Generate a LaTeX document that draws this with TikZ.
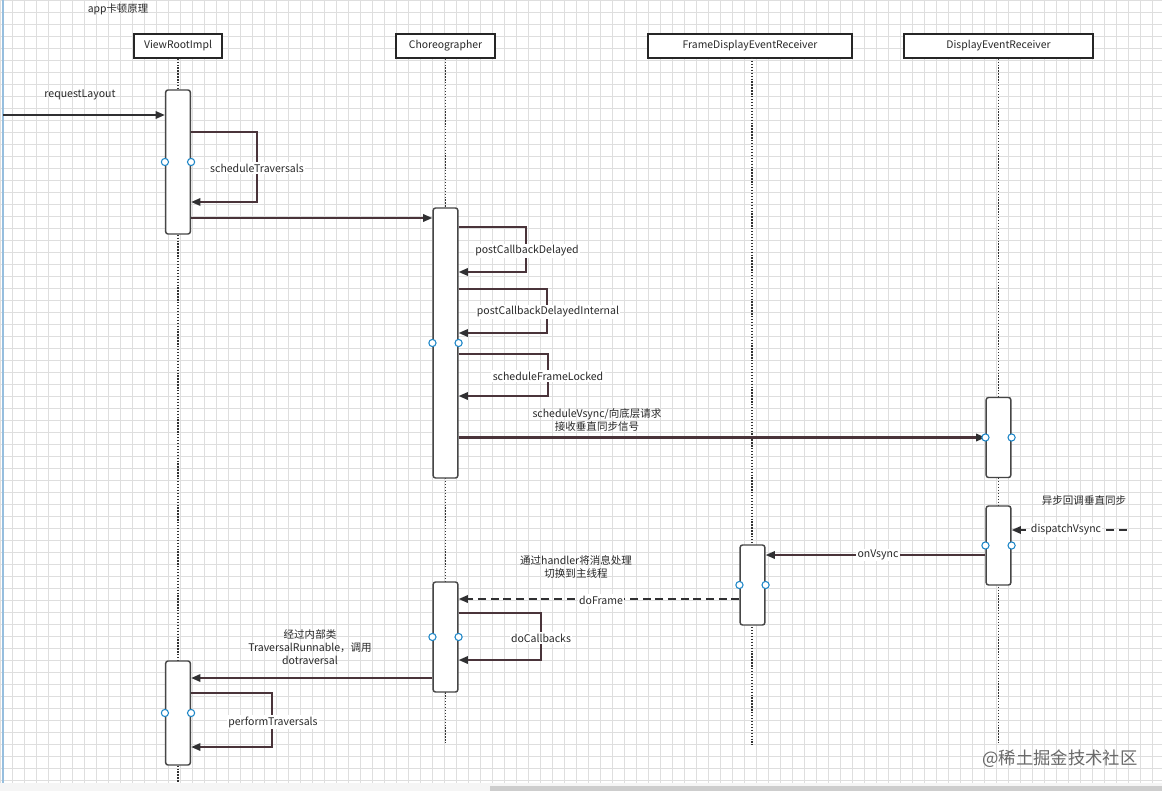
\documentclass[tikz,border=0pt]{standalone}
\usepackage{fontspec}
\setmainfont{Noto Sans CJK SC}
\usetikzlibrary{arrows.meta}
\definecolor{gridc}{RGB}{222,222,222}
\definecolor{msgc}{RGB}{74,52,58}
\definecolor{tipc}{RGB}{48,48,50}
\definecolor{boxc}{RGB}{70,70,70}
\definecolor{txtc}{RGB}{40,40,40}
\definecolor{portc}{RGB}{30,135,200}
\definecolor{leftc}{RGB}{150,190,222}
\definecolor{scrollc}{RGB}{205,205,205}
\definecolor{wmc}{RGB}{105,105,105}
\begin{document}
\begin{tikzpicture}[x=0.75pt,y=-0.75pt,
  gridline/.style={draw=gridc,line width=0.5pt},
  head/.style={draw=black!85,line width=1pt,fill=white,minimum height=18pt,inner sep=0pt,font=\fontsize{7.8}{9}\selectfont,text=txtc},
  life/.style={draw=black!80,line width=1pt,dash pattern=on 1pt off 1.2pt},
  act/.style={draw=boxc,line width=1.1pt,fill=white,rounded corners=1.8pt,minimum width=18.5pt,minimum height=#1,inner sep=0pt},
  msg/.style={draw=msgc,line width=1.6pt,-{Triangle[length=7pt,width=5.5pt,color=tipc]}},
  dmsg/.style={draw=tipc,line width=1.6pt,dash pattern=on 6pt off 3.5pt,-{Triangle[length=7pt,width=5.5pt,color=tipc]}},
  lbl/.style={font=\fontsize{7.9}{9.75}\selectfont,text=txtc,fill=white,inner sep=1pt},
  note/.style={font=\fontsize{7.9}{9.75}\selectfont,text=txtc,align=center,inner sep=0pt},
  port/.style={draw=portc,line width=0.8pt,fill=white}]
\useasboundingbox (0,0) rectangle (1162,791);
\fill[white] (0,0) rectangle (1162,791);
% grid
\foreach \i in {0,12,...,1160} \draw[gridline] (\i,0) -- (\i,783);
\foreach \j in {0,12,...,780} \draw[gridline] (0,\j) -- (1162,\j);
\draw[leftc,line width=1pt] (3,0) -- (3,783);
\fill[black!4] (0,783) rectangle (1162,791);
\fill[scrollc] (490,786) rectangle (1162,791);
% title
\node[font=\fontsize{7.8}{9}\selectfont,text=txtc] (title) at (118,9) {app卡顿原理};
% headers
\node[head,minimum width=66pt] (vr) at (178,46) {ViewRootImpl};
\node[head,minimum width=74.25pt] (ch) at (445.5,46) {Choreographer};
\node[head,minimum width=153pt] (fd) at (750,46) {FrameDisplayEventReceiver};
\node[head,minimum width=141.75pt] (de) at (998.5,46) {DisplayEventReceiver};
% lifelines
\draw[life] (vr.south) -- (178,783);
\draw[life] (ch.south) -- (445.5,745);
\draw[life] (752,58) -- (752,745);
\draw[life] (de.south) -- (998.5,745);
% activations
\node[act=108pt] (v1) at (178,162) {};
\node[act=202.5pt] (c1) at (445.5,343) {};
\node[act=60pt] (d1) at (998.5,437.5) {};
\node[act=59.25pt] (d2) at (998.5,545.5) {};
\node[act=60pt] (f1) at (752.5,585) {};
\node[act=82.5pt] (c2) at (445.5,637) {};
\node[act=78pt] (v2) at (178,713) {};
% messages
\coordinate (start) at (3,115);
\draw[msg,draw=tipc] (start) -- (v1.west|-0,115);
\node[lbl,fill=none] (lreq) at (80,95) {requestLayout};
\draw[msg] (v1.east|-0,132) -- (257,132) -- (257,202) -- (v1.east|-0,202);
\node[lbl] (lst) at (257,168) {scheduleTraversals};
\draw[msg] (v1.east|-0,218) -- (c1.west|-0,218);
\draw[msg] (c1.east|-0,227) -- (526,227) -- (526,272) -- (c1.east|-0,272);
\node[lbl] (lpcd) at (527,251) {postCallbackDelayed};
\draw[msg] (c1.east|-0,289) -- (547,289) -- (547,333) -- (c1.east|-0,333);
\node[lbl] (lpcdi) at (548,312) {postCallbackDelayedInternal};
\draw[msg] (c1.east|-0,354) -- (548,354) -- (548,396) -- (c1.east|-0,396);
\node[lbl] (lsfl) at (548,376) {scheduleFrameLocked};
\draw[msg] (c1.east|-0,437.5) -- (d1.west);
\node[note] (lsv) at (597,420) {scheduleVsync/向底层请求\\接收垂直同步信号};
\node[note] (lasync) at (1084,501) {异步回调垂直同步};
\coordinate (vs) at (1127,530);
\draw[dmsg] (vs) -- (d2.east|-0,530);
\node[lbl] (ldv) at (1066,530) {dispatchVsync};
\draw[msg] (d2.west|-0,555) -- (f1.east|-0,555);
\node[lbl] (lov) at (878,555) {onVsync};
\draw[dmsg] (f1.west|-0,599) -- (c2.east|-0,599);
\node[lbl] (ldf) at (601,600) {doFrame};
\node[note] (lhd) at (576,567) {通过handler将消息处理\\切换到主线程};
\draw[msg] (c2.east|-0,613) -- (541,613) -- (541,660) -- (c2.east|-0,660);
\node[lbl] (ldc) at (541,638) {doCallbacks};
\draw[msg] (c2.west|-0,678) -- (v2.east|-0,678);
\node[note] (ltr) at (310,647) {经过内部类\\TraversalRunnable，调用\\dotraversal};
\draw[msg] (v2.east|-0,693) -- (272,693) -- (272,747) -- (v2.east|-0,747);
\node[lbl] (lpt) at (273,722) {performTraversals};
% ports
\foreach \n in {v1,c1,d1,d2,f1,c2,v2} {
  \draw[port] (\n.west) circle[radius=2.7pt];
  \draw[port] (\n.east) circle[radius=2.7pt];
}
% watermark
\node[font=\fontsize{13}{15}\selectfont,text=wmc] (wm) at (1060,759) {@稀土掘金技术社区};
\end{tikzpicture}
\end{document}
